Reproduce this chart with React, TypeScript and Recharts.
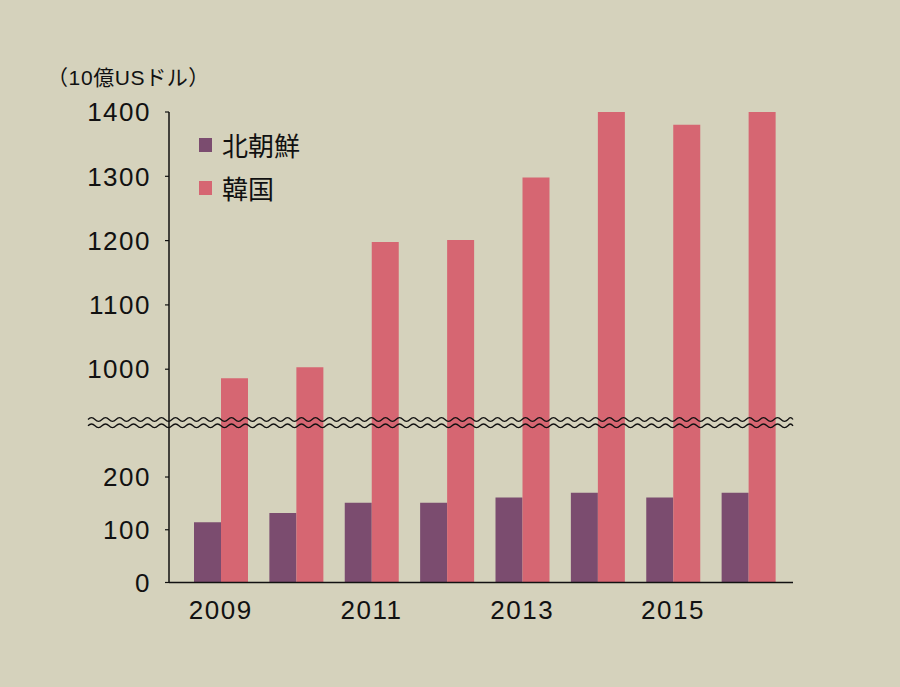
import React from 'react';
import { BarChart, Bar, XAxis, YAxis, Legend } from 'recharts';

// ---- data ----
const years = ['2009', '2010', '2011', '2012', '2013', '2014', '2015', '2016'];
const northKorea = [114, 132, 151, 151, 161, 170, 161, 170];
const southKorea = [986, 1003, 1198, 1201, 1298, 1403, 1380, 1403];
const seriesNames = ['北朝鮮', '韓国'];
const upperTicks = [1000, 1100, 1200, 1300, 1400];
const lowerTicks = [0, 100, 200];
const unitLabel = '（10億USドル）';

// ---- styling ----
const BG = '#d5d2bc';
const NK_COLOR = '#7b4c6f';
const SK_COLOR = '#d66672';
const INK = '#111111';
const FONT = '"Liberation Sans", Arial, "Noto Sans CJK JP", sans-serif';
const CJK_FONT = '"Noto Sans CJK JP", "Liberation Sans", sans-serif';

const seriesColors = [NK_COLOR, SK_COLOR];

const lowerRows = years.map((y, i) => ({ year: y, nk: northKorea[i], sk: southKorea[i] }));
const upperRows = years.map((y, i) => ({ year: y, nk: null, sk: southKorea[i] }));

const UPPER_DOMAIN: [number, number] = [917.9, 1400];
const LOWER_DOMAIN: [number, number] = [0, 304.3];

const tickStyle = { fill: INK, fontSize: 26, fontFamily: FONT, letterSpacing: 1.5 };

const renderLegend = () => (
  <div style={{ display: 'flex', flexDirection: 'column' }}>
    {seriesNames.map((name, i) => (
      <div key={name} style={{ display: 'flex', alignItems: 'center', height: 43 }}>
        <span style={{ display: 'inline-block', width: 13, height: 14, background: seriesColors[i], marginRight: 10 }} />
        <span style={{ fontSize: 26, lineHeight: '30px', fontFamily: CJK_FONT, color: INK }}>{name}</span>
      </div>
    ))}
  </div>
);

function wavePath(x0: number, x1: number, y: number, wl: number, amp: number) {
  let d = `M ${x0} ${y}`;
  const half = wl / 2;
  let x = x0;
  let up = true;
  while (x < x1) {
    const nx = Math.min(x + half, x1);
    d += ` Q ${(x + nx) / 2} ${up ? y - amp * 2 : y + amp * 2} ${nx} ${y}`;
    x = nx;
    up = !up;
  }
  return d;
}

const MARGIN_L = 109;
const Y_W = 60;
const MARGIN_R = 107;
const X_PAD = { left: 14, right: 7 };

export default function App() {
  return (
    <div style={{ position: 'absolute', left: 0, top: 0, width: 900, height: 687, background: BG, overflow: 'hidden' }}>
      {/* upper part of the broken axis */}
      <div style={{ position: 'absolute', left: 0, top: 0 }}>
        <BarChart width={900} height={422} data={upperRows} barGap={0}
          margin={{ top: 112, right: MARGIN_R, bottom: 0, left: MARGIN_L }}>
          <XAxis dataKey="year" hide padding={X_PAD} />
          <YAxis width={Y_W} domain={UPPER_DOMAIN} allowDataOverflow ticks={upperTicks}
            axisLine={{ stroke: INK, strokeWidth: 1.5 }} tickLine={{ stroke: INK, strokeWidth: 1.2 }}
            tickSize={4} tickMargin={14} tick={tickStyle} />
          <Legend content={renderLegend} layout="vertical" align="center" verticalAlign="middle"
            wrapperStyle={{ position: 'absolute', left: 199, top: 123.5, width: 'auto', height: 'auto' }} />
          <Bar dataKey="nk" name={seriesNames[0]} fill={NK_COLOR} barSize={27} isAnimationActive={false} />
          <Bar dataKey="sk" name={seriesNames[1]} fill={SK_COLOR} barSize={27} isAnimationActive={false} />
        </BarChart>
      </div>
      {/* lower part of the broken axis */}
      <div style={{ position: 'absolute', left: 0, top: 422 }}>
        <BarChart width={900} height={265} data={lowerRows} barGap={0}
          margin={{ top: 0, right: MARGIN_R, bottom: 64.5, left: MARGIN_L }}>
          <XAxis dataKey="year" height={40} padding={X_PAD} interval={1}
            axisLine={{ stroke: INK, strokeWidth: 1.5 }} tickLine={false} tickSize={0} tickMargin={18}
            tick={tickStyle} />
          <YAxis width={Y_W} domain={LOWER_DOMAIN} allowDataOverflow ticks={lowerTicks}
            axisLine={{ stroke: INK, strokeWidth: 1.5 }} tickLine={{ stroke: INK, strokeWidth: 1.2 }}
            tickSize={4} tickMargin={14} tick={tickStyle} />
          <Bar dataKey="nk" name={seriesNames[0]} fill={NK_COLOR} barSize={27} isAnimationActive={false} />
          <Bar dataKey="sk" name={seriesNames[1]} fill={SK_COLOR} barSize={27} isAnimationActive={false} />
        </BarChart>
      </div>
      {/* axis break marks and unit label */}
      <svg width={900} height={687} style={{ position: 'absolute', left: 0, top: 0, pointerEvents: 'none' }}>
        <text x={47} y={85} fontSize={21} letterSpacing={0.6} fill={INK} fontFamily={FONT}>{unitLabel}</text>
        <path d={wavePath(88, 793, 419.5, 14, 1.8)} fill="none" stroke={INK} strokeWidth={1.3} />
        <path d={wavePath(88, 793, 425.8, 14, 1.8)} fill="none" stroke={INK} strokeWidth={1.3} />
      </svg>
    </div>
  );
}
